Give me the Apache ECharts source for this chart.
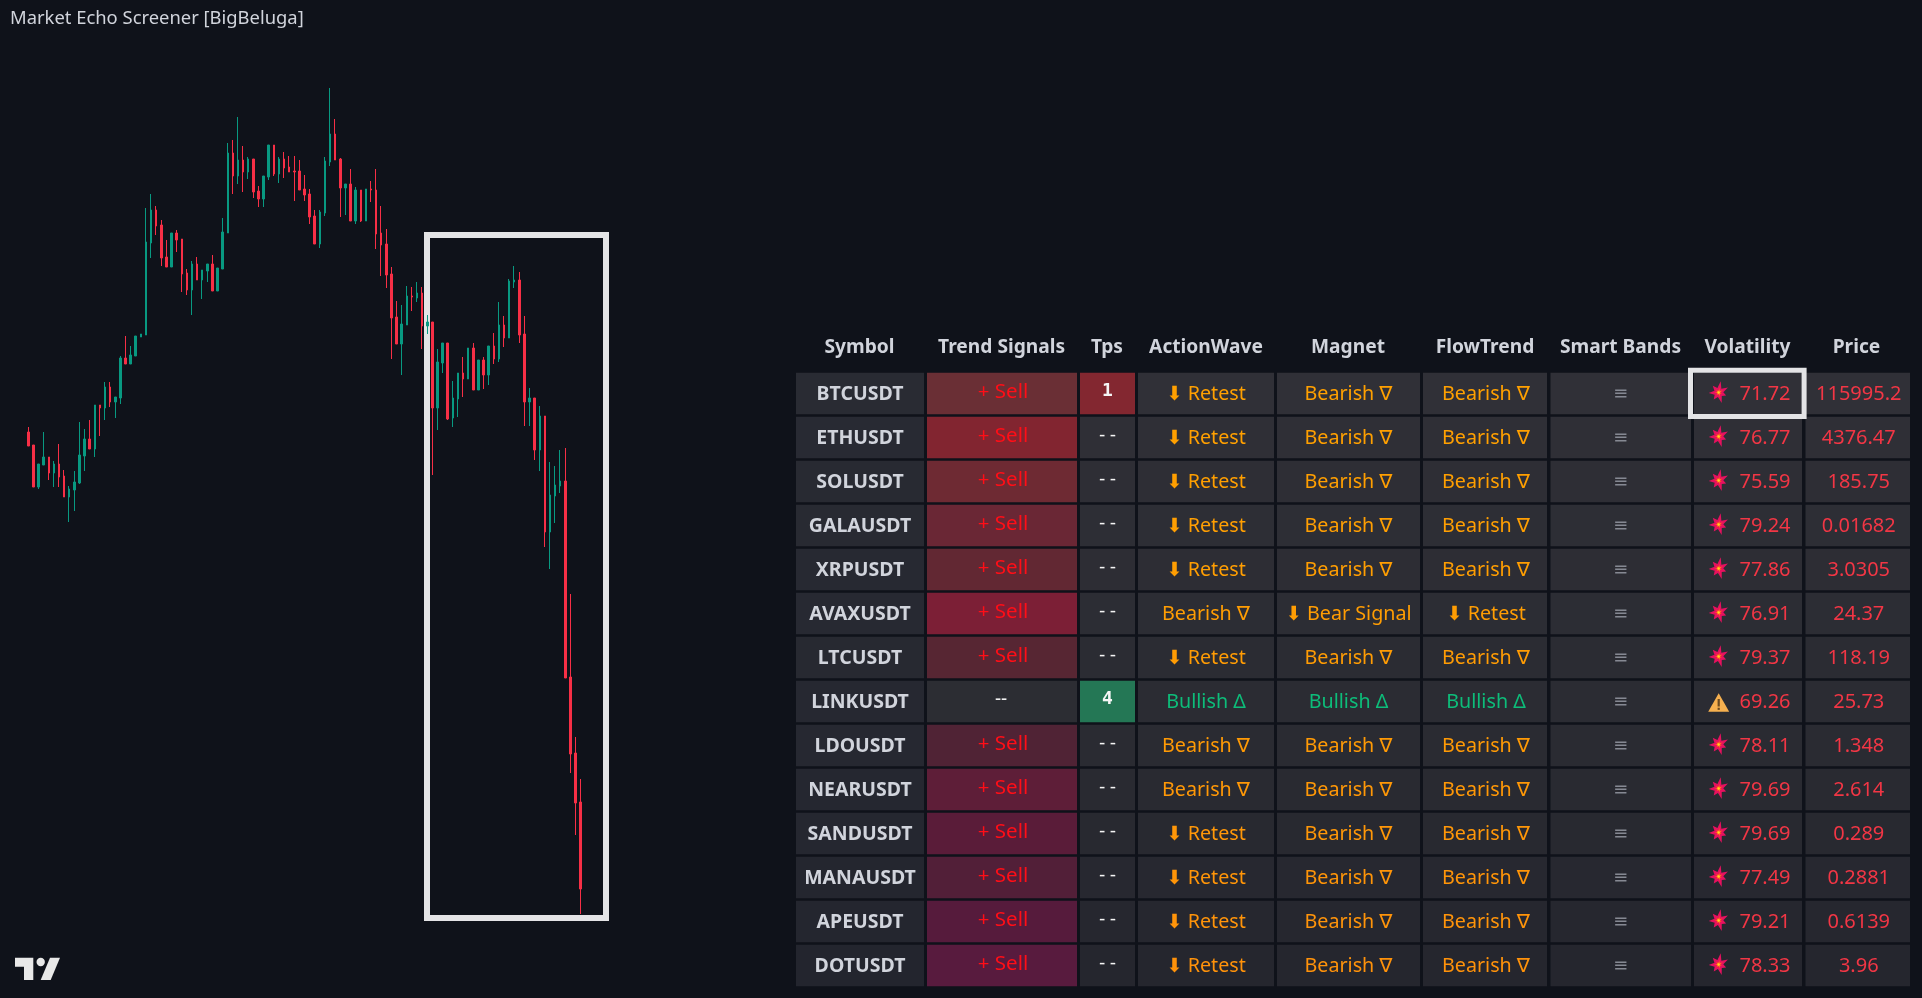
<!DOCTYPE html>
<html><head><meta charset="utf-8">
<style>html,body{margin:0;padding:0;background:#0f121a;overflow:hidden}#c{width:1922px;height:998px}</style>
<script src="https://cdn.jsdelivr.net/npm/echarts@6/dist/echarts.min.js"></script>
</head><body><div id="c"></div>
<script>
const opens=[118280,118215,118005,118115,118155,118075,118120,118060,117955,117990,118025,118160,118245,118195,118415,118400,118505,118430,118450,118650,118620,118660,118755,118765,119225,119390,119315,119155,119105,119275,119245,119075,118990,119120,119040,119085,119120,118985,119095,119275,119675,119560,119640,119580,119645,119485,119445,119555,119715,119570,119645,119605,119585,119585,119495,119470,119360,119220,119375,119630,119770,119645,119500,119520,119335,119490,119335,119495,119490,119275,119220,119070,118855,118720,118815,118960,118950,118975,118810,118830,118400,118625,118725,118350,118445,118575,118545,118700,118490,118640,118565,118710,118645,118815,118750,119030,119040,118770,118430,118450,118190,118360,117780,117960,118010,118035,117055,116675,116430];
const closes=[118210,118005,118120,118155,118075,118120,118055,117955,117995,118030,118165,118245,118195,118415,118400,118505,118430,118455,118650,118620,118665,118760,118770,119230,119390,119310,119150,119105,119275,119240,119070,118990,119120,119040,119090,119120,118985,119100,119280,119675,119560,119640,119580,119645,119480,119445,119560,119715,119570,119645,119600,119580,119580,119490,119465,119355,119220,119380,119635,119770,119640,119500,119520,119335,119490,119335,119495,119490,119270,119215,119065,118850,118720,118820,118960,118955,118975,118810,118830,118400,118630,118725,118345,118450,118575,118545,118700,118490,118640,118565,118710,118645,118815,118750,119035,119040,118765,118430,118450,118190,118360,117780,117965,118015,118035,117050,116670,116425,115995];
const lows=[118210,118005,117995,118115,118040,118005,118005,117955,117830,117885,118020,118085,118195,118155,118260,118340,118405,118350,118420,118620,118620,118660,118755,118765,119150,119265,119110,119105,119105,119180,118980,118965,118865,119040,118945,119030,118985,118985,119095,119275,119470,119520,119480,119545,119450,119405,119405,119540,119560,119525,119550,119580,119435,119490,119435,119320,119220,119200,119360,119610,119640,119355,119365,119335,119320,119330,119335,119430,119195,119060,119000,118645,118720,118565,118815,118885,118930,118695,118770,118065,118290,118575,118340,118305,118355,118455,118545,118490,118490,118495,118515,118620,118630,118705,118750,119000,118725,118310,118310,118140,118085,117705,117595,117825,117975,117050,116575,116265,115870];
const highs=[118305,118215,118120,118280,118155,118135,118220,118090,118010,118085,118330,118295,118340,118415,118415,118530,118530,118455,118660,118760,118710,118760,118770,119400,119470,119410,119340,119240,119275,119290,119245,119095,119135,119155,119090,119120,119165,119100,119350,119725,119740,119855,119710,119655,119645,119510,119560,119715,119715,119655,119680,119660,119660,119640,119565,119495,119390,119390,119655,120000,119845,119650,119520,119595,119505,119490,119495,119535,119595,119410,119295,119105,118935,118915,119010,119005,119030,119005,118865,118830,118695,118725,118725,118535,118575,118655,118700,118725,118640,118655,118710,118775,118930,118860,119045,119110,119080,118860,118500,118450,118410,118360,118130,118110,118190,118200,117470,116755,116545];
const bars=opens.map((o,i)=>[o,closes[i],lows[i],highs[i]]);

const titleText='Market Echo Screener [BigBeluga]';
const columns=['Symbol','Trend Signals','Tps','ActionWave','Magnet','FlowTrend','Smart Bands','Volatility','Price'];
const symbols=['BTCUSDT','ETHUSDT','SOLUSDT','GALAUSDT','XRPUSDT','AVAXUSDT','LTCUSDT','LINKUSDT','LDOUSDT','NEARUSDT','SANDUSDT','MANAUSDT','APEUSDT','DOTUSDT'];
const trendSignals=['+ Sell','+ Sell','+ Sell','+ Sell','+ Sell','+ Sell','+ Sell','--','+ Sell','+ Sell','+ Sell','+ Sell','+ Sell','+ Sell'];
const tps=['1','--','--','--','--','--','--','4','--','--','--','--','--','--'];
const actionWave=['⬇ Retest','⬇ Retest','⬇ Retest','⬇ Retest','⬇ Retest','Bearish ∇','⬇ Retest','Bullish Δ','Bearish ∇','Bearish ∇','⬇ Retest','⬇ Retest','⬇ Retest','⬇ Retest'];
const magnet=['Bearish ∇','Bearish ∇','Bearish ∇','Bearish ∇','Bearish ∇','⬇ Bear Signal','Bearish ∇','Bullish Δ','Bearish ∇','Bearish ∇','Bearish ∇','Bearish ∇','Bearish ∇','Bearish ∇'];
const flowTrend=['Bearish ∇','Bearish ∇','Bearish ∇','Bearish ∇','Bearish ∇','⬇ Retest','Bearish ∇','Bullish Δ','Bearish ∇','Bearish ∇','Bearish ∇','Bearish ∇','Bearish ∇','Bearish ∇'];
const smartBands=['≡','≡','≡','≡','≡','≡','≡','≡','≡','≡','≡','≡','≡','≡'];
const volatility=['71.72','76.77','75.59','79.24','77.86','76.91','79.37','69.26','78.11','79.69','79.69','77.49','79.21','78.33'];
const prices=['115995.2','4376.47','185.75','0.01682','3.0305','24.37','118.19','25.73','1.348','2.614','0.289','0.2881','0.6139','3.96'];
const tableColumns=[symbols,trendSignals,tps,actionWave,magnet,flowTrend,smartBands,volatility,prices];

// layout and style
const FONT='"Noto Sans","DejaVu Sans",sans-serif';
const colEdges=[[796,924],[927,1077],[1080,1135],[1138,1274],[1277,1420],[1423,1547],[1550.5,1691],[1694,1802],[1805.5,1910]];
const headerCenters=[859.5,1001.6,1107,1206,1348,1485,1620.5,1747.5,1856.5];
const trendFills=['#6a2f35','#822530','#6e2a33','#6a2735','#622833','#7c1f36','#572633','#2c2d33','#502335','#5e1e38','#5a1c39','#521f38','#561b3c','#581b3e'];
const cellFills=['#303037','#2f2f36','#2e2e35','#2d2e35','#2d2d34','#2c2d34','#2b2c33','#2b2c33','#2a2b32','#292a31','#282930','#272830','#26272f','#25262e'];
const symFills=['#292b33','#282a33','#282a32','#282a32','#272932','#272932','#272931','#262831','#262831','#252730','#252730','#24262f','#24262f','#23252e'];
const oranges=['#ffa000','#ffa000','#ff9f00','#ff9f02','#ff9e02','#ff9d03','#ff9c04','#ff9b05','#ff9a05','#ff9807','#ff9708','#ff9508','#ff940a','#ff920a'];
const starOuter=[10.5,8,11,8.5,10,9,11.5];
function star(cx,cy,scale,rot,inner){const pts=[];const n=starOuter.length;for(let i=0;i<n;i++){const a=rot+i*2*Math.PI/n;const r=starOuter[i]*scale;pts.push([cx+r*Math.cos(a),cy+r*Math.sin(a)]);const b=a+Math.PI/n;const q=inner*scale;pts.push([cx+q*Math.cos(b),cy+q*Math.sin(b)]);}return pts;}

function textEl(x,y,text,fill,font){return {type:'text',style:{x,y,text,fill,font,align:'center',verticalAlign:'middle'}};}
function colorFor(s,row){if(s.indexOf('Bullish')>=0)return '#0dbd7a';return oranges[row];}

function renderCell(params,api){
  const c=api.value(0),r=api.value(1);
  const cy=api.coord([c,r])[1];
  const [x0,x1]=colEdges[c];
  const top=cy-20.8,h=41.6,w=x1-x0,cx=(x0+x1)/2;
  const ty=cy+1.2;
  const s=tableColumns[c][r];
  const ch=[];
  let fill=cellFills[r];
  if(c===0)fill=symFills[r];
  if(c===1)fill=trendFills[r];
  if(c===2&&s==='1')fill='#832730';
  if(c===2&&s==='4')fill='#247755';
  ch.push({type:'rect',shape:{x:x0,y:top,width:w,height:h},style:{fill}});
  if(c===0)ch.push(textEl(cx,ty,s,'#d1d4dc','bold 19.5px '+FONT));
  else if(c===1)ch.push(s==='--'?textEl(cx-1,ty-3,s,'#f0f0f0','19px '+FONT):textEl(cx+1,ty-3,s,'#ff0e17','20.5px '+FONT));
  else if(c===2)ch.push(textEl(cx,ty-3,s,'#f5f5f5',(s==='--'?'':'bold ')+'18px "DejaVu Sans Mono"'));
  else if(c>=3&&c<=5)ch.push(textEl(cx+(c===5?1:0),ty,s,colorFor(s,r),'19.7px '+FONT));
  else if(c===6)ch.push(textEl(cx,ty,s,'#868993','18px "DejaVu Sans"'));
  else if(c===7){
    const ix=1718.7,iy=cy-1;
    if(parseFloat(s)<70){
      ch.push({type:'polygon',shape:{points:[[ix,cy-8.2],[ix+10.5,cy+10.2],[ix-10.5,cy+10.2]]},style:{fill:'#f6b04f'}});
      ch.push({type:'rect',shape:{x:ix-1.1,y:cy-2.5,width:2.2,height:7.5},style:{fill:'#6b4a20'}});
      ch.push({type:'rect',shape:{x:ix-1.1,y:cy+6.2,width:2.2,height:2.2},style:{fill:'#6b4a20'}});
    }else{
      ch.push({type:'polygon',shape:{points:star(ix,iy,1,-0.5,4.6)},style:{fill:'#e6115f'}});
      ch.push({type:'polygon',shape:{points:star(ix,iy,0.45,-0.5,3.8)},style:{fill:'#ff4a28'}});
      ch.push({type:'polygon',shape:{points:star(ix,iy,0.24,-0.5,3.8)},style:{fill:'#ffd51e'}});
    }
    ch.push(textEl(1765,ty,s,'#f23645','20px '+FONT));
  }else ch.push(textEl(cx+1,ty,s,'#f23645','20px '+FONT));
  return {type:'group',children:ch};
}
function renderHeader(params,api){
  const c=api.value(0);
  return textEl(headerCenters[c],347.2,columns[c],'#d1d4dc','bold 19.2px '+FONT);
}
const cellData=[];
for(let c=0;c<columns.length;c++)for(let r=0;r<symbols.length;r++)cellData.push([c,r]);

const chart=echarts.init(document.getElementById('c'),null,{width:1922,height:998});
chart.setOption({
  animation:false,
  backgroundColor:'#0f121a',
  title:{text:titleText,left:10,top:9.5,padding:0,textStyle:{color:'#d1d4dc',fontSize:18.4,fontWeight:'normal',fontFamily:FONT}},
  grid:[{left:25.76,width:557.5,top:0,height:998},{left:796,width:1114,top:371.5,height:616}],
  xAxis:[
    {type:'category',gridIndex:0,show:false,data:opens.map((_,i)=>i+1)},
    {type:'category',gridIndex:1,show:false,data:columns}
  ],
  yAxis:[
    {type:'value',gridIndex:0,show:false,min:115450,max:120440,splitLine:{show:false}},
    {type:'category',gridIndex:1,show:false,inverse:true,data:symbols}
  ],
  graphic:{elements:[
    {type:'rect',z:0,shape:{x:427,y:235,width:179,height:683},style:{fill:'none',stroke:'#e4e4e6',lineWidth:6}},
    {type:'rect',z:20,shape:{x:1690.5,y:370.2,width:113.6,height:46.3},style:{fill:'none',stroke:'#e4e4e6',lineWidth:5}},
    {type:'polygon',z:20,shape:{points:[[15,957.7],[33.3,957.7],[33.3,980],[24,980],[24,966.7],[15,966.7]]},style:{fill:'#e8e8e8'}},
    {type:'circle',z:20,shape:{cx:40.7,cy:962,r:4.2},style:{fill:'#e8e8e8'}},
    {type:'polygon',z:20,shape:{points:[[50,957.7],[60,957.7],[50.7,980],[40.7,980]]},style:{fill:'#e8e8e8'}}
  ]},
  series:[
    {type:'candlestick',xAxisIndex:0,yAxisIndex:0,data:bars,barWidth:2,z:5,
     itemStyle:{color:'#089981',color0:'#f72f46',borderColor:'#089981',borderColor0:'#f72f46',borderWidth:1}},
    {type:'custom',xAxisIndex:1,yAxisIndex:1,data:cellData,renderItem:renderCell,z:3,clip:false,silent:true},
    {type:'custom',xAxisIndex:1,yAxisIndex:1,data:columns.map((_,c)=>[c,0]),renderItem:renderHeader,z:3,clip:false,silent:true}
  ]
});
</script></body></html>
